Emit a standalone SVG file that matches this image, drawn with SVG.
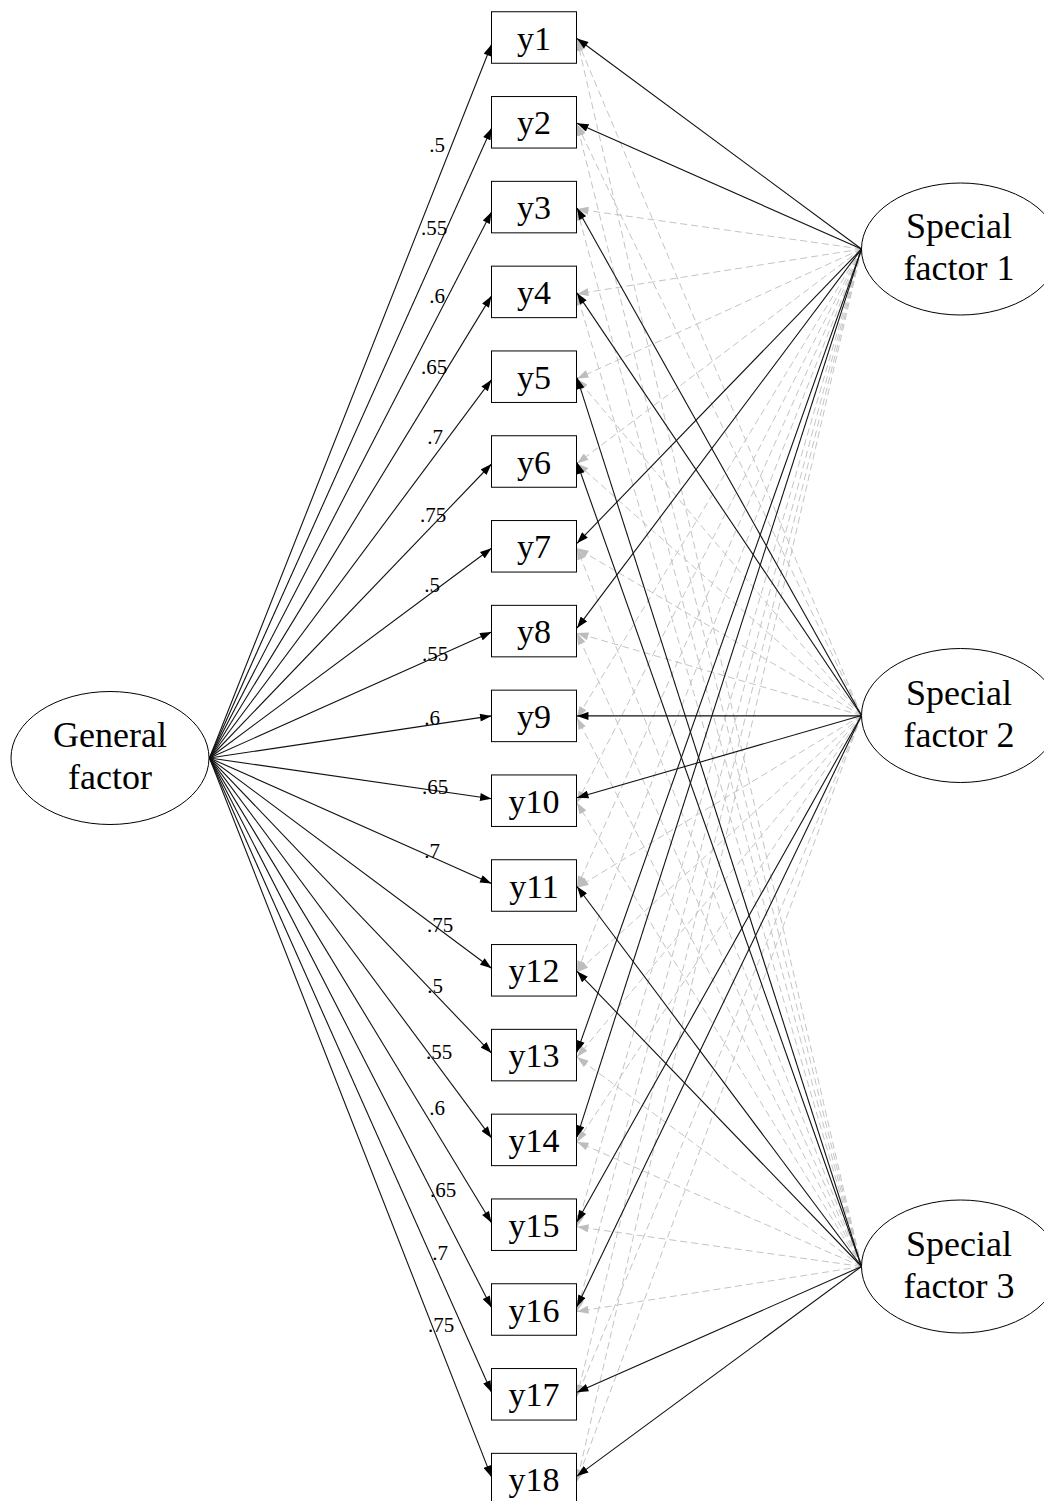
<svg xmlns="http://www.w3.org/2000/svg" width="1044" height="1501" viewBox="0 0 1044 1501">
  <style>
    text { font-family: "Liberation Serif", "Times New Roman", serif; fill: #000; }
    .node-label { font-size: 36px; text-anchor: middle; }
    .item-label { font-size: 34px; text-anchor: middle; }
    .edge-label { font-size: 21px; text-anchor: middle; }
    .item { fill: #fff; stroke: #000; stroke-width: 1; }
    .factor { fill: #fff; stroke: #000; stroke-width: 1; }
    .ge, .se { stroke: #111; stroke-width: 1.1; fill: none; marker-end: url(#arrow); }
    .de { stroke: #c4c4c4; stroke-width: 1; stroke-dasharray: 7 4; fill: none; marker-end: url(#arrow-grey); }
  </style>
  <defs>
    <marker id="arrow" viewBox="0 0 10 7" refX="10" refY="3.5" markerWidth="12" markerHeight="8" markerUnits="userSpaceOnUse" orient="auto">
      <path d="M0,0 L10,3.5 L0,7 Z" fill="#000"/>
    </marker>
    <marker id="arrow-grey" viewBox="0 0 10 7" refX="10" refY="3.5" markerWidth="12" markerHeight="8" markerUnits="userSpaceOnUse" orient="auto">
      <path d="M0,0 L10,3.5 L0,7 Z" fill="#bdbdbd"/>
    </marker>
  </defs>
  <rect width="1044" height="1501" fill="#fff"/>

  <g id="connectors">
    <!-- zero cross-loadings: special factors to items outside their group -->
    <g id="cross-loadings">
      <line class="de" x1="861.5" y1="249" x2="577" y2="209.1"/>
      <line class="de" x1="861.5" y1="249" x2="577" y2="293.9"/>
      <line class="de" x1="861.5" y1="249" x2="577" y2="378.7"/>
      <line class="de" x1="861.5" y1="249" x2="577" y2="463.5"/>
      <line class="de" x1="861.5" y1="249" x2="577" y2="717.9"/>
      <line class="de" x1="861.5" y1="249" x2="577" y2="802.7"/>
      <line class="de" x1="861.5" y1="249" x2="577" y2="887.5"/>
      <line class="de" x1="861.5" y1="249" x2="577" y2="972.3"/>
      <line class="de" x1="861.5" y1="249" x2="577" y2="1226.7"/>
      <line class="de" x1="861.5" y1="249" x2="577" y2="1311.5"/>
      <line class="de" x1="861.5" y1="249" x2="577" y2="1396.3"/>
      <line class="de" x1="861.5" y1="249" x2="577" y2="1481.1"/>

      <line class="de" x1="861.5" y1="715.5" x2="577" y2="39.5"/>
      <line class="de" x1="861.5" y1="715.5" x2="577" y2="124.3"/>
      <line class="de" x1="861.5" y1="715.5" x2="577" y2="378.7"/>
      <line class="de" x1="861.5" y1="715.5" x2="577" y2="463.5"/>
      <line class="de" x1="861.5" y1="715.5" x2="577" y2="548.3"/>
      <line class="de" x1="861.5" y1="715.5" x2="577" y2="633.1"/>
      <line class="de" x1="861.5" y1="715.5" x2="577" y2="887.5"/>
      <line class="de" x1="861.5" y1="715.5" x2="577" y2="972.3"/>
      <line class="de" x1="861.5" y1="715.5" x2="577" y2="1057.1"/>
      <line class="de" x1="861.5" y1="715.5" x2="577" y2="1141.9"/>
      <line class="de" x1="861.5" y1="715.5" x2="577" y2="1396.3"/>
      <line class="de" x1="861.5" y1="715.5" x2="577" y2="1481.1"/>

      <line class="de" x1="861.5" y1="1266.5" x2="577" y2="39.5"/>
      <line class="de" x1="861.5" y1="1266.5" x2="577" y2="124.3"/>
      <line class="de" x1="861.5" y1="1266.5" x2="577" y2="209.1"/>
      <line class="de" x1="861.5" y1="1266.5" x2="577" y2="293.9"/>
      <line class="de" x1="861.5" y1="1266.5" x2="577" y2="548.3"/>
      <line class="de" x1="861.5" y1="1266.5" x2="577" y2="633.1"/>
      <line class="de" x1="861.5" y1="1266.5" x2="577" y2="717.9"/>
      <line class="de" x1="861.5" y1="1266.5" x2="577" y2="802.7"/>
      <line class="de" x1="861.5" y1="1266.5" x2="577" y2="1057.1"/>
      <line class="de" x1="861.5" y1="1266.5" x2="577" y2="1141.9"/>
      <line class="de" x1="861.5" y1="1266.5" x2="577" y2="1226.7"/>
      <line class="de" x1="861.5" y1="1266.5" x2="577" y2="1311.5"/>
    </g>

    <!-- general factor loadings -->
    <g id="general-loadings">
      <line class="ge" x1="209.5" y1="758" x2="491.5" y2="44.5"/>
      <line class="ge" x1="209.5" y1="758" x2="491.5" y2="128.3"/>
      <line class="ge" x1="209.5" y1="758" x2="491.5" y2="212.1"/>
      <line class="ge" x1="209.5" y1="758" x2="491.5" y2="295.9"/>
      <line class="ge" x1="209.5" y1="758" x2="491.5" y2="379.7"/>
      <line class="ge" x1="209.5" y1="758" x2="491.5" y2="464"/>
      <line class="ge" x1="209.5" y1="758" x2="491.5" y2="548.3"/>
      <line class="ge" x1="209.5" y1="758" x2="491.5" y2="632.1"/>
      <line class="ge" x1="209.5" y1="758" x2="491.5" y2="715.9"/>
      <line class="ge" x1="209.5" y1="758" x2="491.5" y2="798.7"/>
      <line class="ge" x1="209.5" y1="758" x2="491.5" y2="883.5"/>
      <line class="ge" x1="209.5" y1="758" x2="491.5" y2="968.3"/>
      <line class="ge" x1="209.5" y1="758" x2="491.5" y2="1053.1"/>
      <line class="ge" x1="209.5" y1="758" x2="491.5" y2="1137.9"/>
      <line class="ge" x1="209.5" y1="758" x2="491.5" y2="1222.7"/>
      <line class="ge" x1="209.5" y1="758" x2="491.5" y2="1307.5"/>
      <line class="ge" x1="209.5" y1="758" x2="491.5" y2="1392.3"/>
      <line class="ge" x1="209.5" y1="758" x2="491.5" y2="1477.1"/>
    </g>

    <!-- special factor loadings -->
    <g id="special-loadings">
      <line class="se" x1="861.5" y1="249" x2="577" y2="38.5"/>
      <line class="se" x1="861.5" y1="249" x2="577" y2="123.3"/>
      <line class="se" x1="861.5" y1="249" x2="577" y2="543.3"/>
      <line class="se" x1="861.5" y1="249" x2="577" y2="628.1"/>
      <line class="se" x1="861.5" y1="249" x2="577" y2="1052.1"/>
      <line class="se" x1="861.5" y1="249" x2="577" y2="1136.9"/>

      <line class="se" x1="861.5" y1="715.5" x2="577" y2="208.1"/>
      <line class="se" x1="861.5" y1="715.5" x2="577" y2="292.9"/>
      <line class="se" x1="861.5" y1="715.9" x2="577" y2="715.9"/>
      <line class="se" x1="861.5" y1="715.5" x2="577" y2="797.7"/>
      <line class="se" x1="861.5" y1="715.5" x2="577" y2="1221.7"/>
      <line class="se" x1="861.5" y1="715.5" x2="577" y2="1306.5"/>

      <line class="se" x1="861.5" y1="1266.5" x2="577" y2="377.7"/>
      <line class="se" x1="861.5" y1="1266.5" x2="577" y2="462.5"/>
      <line class="se" x1="861.5" y1="1266.5" x2="577" y2="886.5"/>
      <line class="se" x1="861.5" y1="1266.5" x2="577" y2="971.3"/>
      <line class="se" x1="861.5" y1="1266.5" x2="577" y2="1392.3"/>
      <line class="se" x1="861.5" y1="1266.5" x2="577" y2="1476.1"/>
    </g>

    <!-- loading values on the general factor paths -->
    <g id="loading-labels">
      <text class="edge-label" x="437" y="152">.5</text>
      <text class="edge-label" x="434" y="235">.55</text>
      <text class="edge-label" x="437" y="303">.6</text>
      <text class="edge-label" x="434" y="374">.65</text>
      <text class="edge-label" x="435" y="444">.7</text>
      <text class="edge-label" x="433" y="522">.75</text>
      <text class="edge-label" x="432" y="592">.5</text>
      <text class="edge-label" x="435" y="661">.55</text>
      <text class="edge-label" x="432" y="725">.6</text>
      <text class="edge-label" x="435" y="794">.65</text>
      <text class="edge-label" x="432" y="858">.7</text>
      <text class="edge-label" x="440" y="932">.75</text>
      <text class="edge-label" x="435" y="993">.5</text>
      <text class="edge-label" x="439" y="1059">.55</text>
      <text class="edge-label" x="437" y="1115">.6</text>
      <text class="edge-label" x="443" y="1197">.65</text>
      <text class="edge-label" x="440" y="1260">.7</text>
      <text class="edge-label" x="441" y="1332">.75</text>
    </g>
  </g>

  <!-- latent factors -->
  <g id="general-factor">
    <ellipse class="factor" cx="110" cy="758" rx="99" ry="66.5"/>
    <text class="node-label" x="110" y="747">General</text>
    <text class="node-label" x="110" y="789">factor</text>
  </g>
  <g id="special-factor-1">
    <ellipse class="factor" cx="960.5" cy="249" rx="99" ry="66"/>
    <text class="node-label" x="959" y="238">Special</text>
    <text class="node-label" x="959" y="280">factor 1</text>
  </g>
  <g id="special-factor-2">
    <ellipse class="factor" cx="960.5" cy="715.5" rx="99" ry="67"/>
    <text class="node-label" x="959" y="705">Special</text>
    <text class="node-label" x="959" y="747">factor 2</text>
  </g>
  <g id="special-factor-3">
    <ellipse class="factor" cx="960.5" cy="1266.5" rx="99" ry="66.5"/>
    <text class="node-label" x="959" y="1256">Special</text>
    <text class="node-label" x="959" y="1298">factor 3</text>
  </g>

  <!-- observed items -->
  <g id="y1"><rect class="item" x="491.5" y="11.75" width="85" height="51.5"/><text class="item-label" x="534" y="49.5">y1</text></g>
  <g id="y2"><rect class="item" x="491.5" y="96.55" width="85" height="51.5"/><text class="item-label" x="534" y="134.3">y2</text></g>
  <g id="y3"><rect class="item" x="491.5" y="181.35" width="85" height="51.5"/><text class="item-label" x="534" y="219.1">y3</text></g>
  <g id="y4"><rect class="item" x="491.5" y="266.15" width="85" height="51.5"/><text class="item-label" x="534" y="303.9">y4</text></g>
  <g id="y5"><rect class="item" x="491.5" y="350.95" width="85" height="51.5"/><text class="item-label" x="534" y="388.7">y5</text></g>
  <g id="y6"><rect class="item" x="491.5" y="435.75" width="85" height="51.5"/><text class="item-label" x="534" y="473.5">y6</text></g>
  <g id="y7"><rect class="item" x="491.5" y="520.55" width="85" height="51.5"/><text class="item-label" x="534" y="558.3">y7</text></g>
  <g id="y8"><rect class="item" x="491.5" y="605.35" width="85" height="51.5"/><text class="item-label" x="534" y="643.1">y8</text></g>
  <g id="y9"><rect class="item" x="491.5" y="690.15" width="85" height="51.5"/><text class="item-label" x="534" y="727.9">y9</text></g>
  <g id="y10"><rect class="item" x="491.5" y="774.95" width="85" height="51.5"/><text class="item-label" x="534" y="812.7">y10</text></g>
  <g id="y11"><rect class="item" x="491.5" y="859.75" width="85" height="51.5"/><text class="item-label" x="534" y="897.5">y11</text></g>
  <g id="y12"><rect class="item" x="491.5" y="944.55" width="85" height="51.5"/><text class="item-label" x="534" y="982.3">y12</text></g>
  <g id="y13"><rect class="item" x="491.5" y="1029.35" width="85" height="51.5"/><text class="item-label" x="534" y="1067.1">y13</text></g>
  <g id="y14"><rect class="item" x="491.5" y="1114.15" width="85" height="51.5"/><text class="item-label" x="534" y="1151.9">y14</text></g>
  <g id="y15"><rect class="item" x="491.5" y="1198.95" width="85" height="51.5"/><text class="item-label" x="534" y="1236.7">y15</text></g>
  <g id="y16"><rect class="item" x="491.5" y="1283.75" width="85" height="51.5"/><text class="item-label" x="534" y="1321.5">y16</text></g>
  <g id="y17"><rect class="item" x="491.5" y="1368.55" width="85" height="51.5"/><text class="item-label" x="534" y="1406.3">y17</text></g>
  <g id="y18"><rect class="item" x="491.5" y="1453.35" width="85" height="51.5"/><text class="item-label" x="534" y="1491.1">y18</text></g>
</svg>
